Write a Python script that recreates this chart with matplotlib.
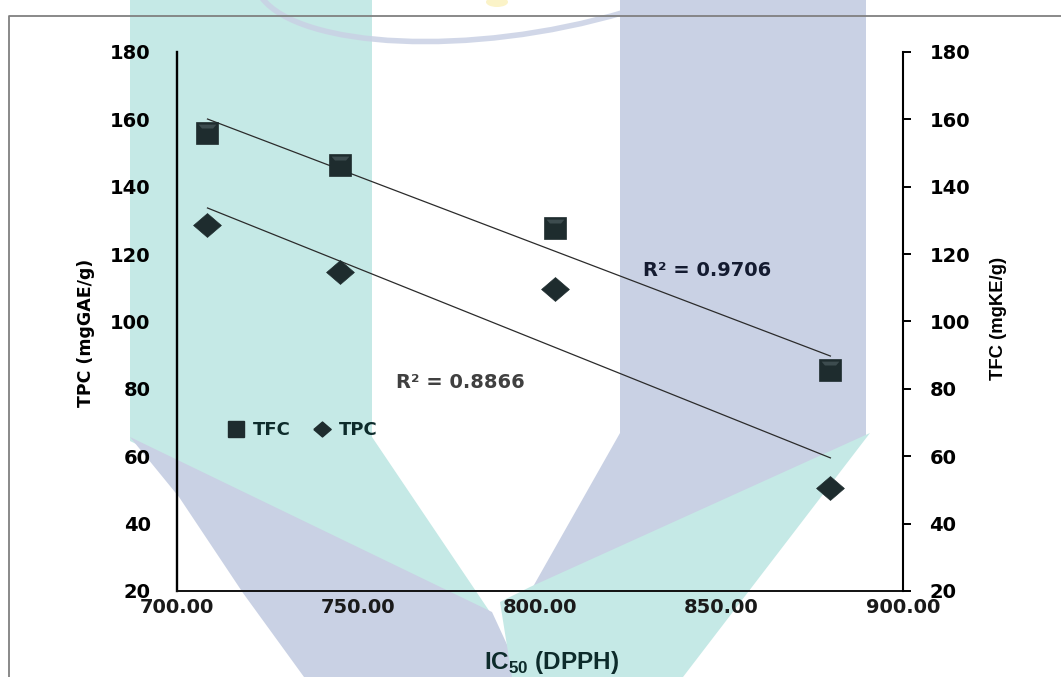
import matplotlib
matplotlib.use('Agg')
import matplotlib.pyplot as plt
import numpy as np
from matplotlib.patches import Polygon, Ellipse, PathPatch
from matplotlib.path import Path
from matplotlib.lines import Line2D
from matplotlib import font_manager

# ---------------- data ----------------
ic50 = [708.4, 744.9, 804.0, 880.0]
tfc = [155.9, 146.6, 127.8, 85.6]
tpc = [128.6, 114.7, 109.6, 50.6]
series_names = ['TFC', 'TPC']
r2_tfc_label = 'R² = 0.9706'
r2_tpc_label = 'R² = 0.8866'
x_ticks = [700, 750, 800, 850, 900]
y_ticks = [20, 40, 60, 80, 100, 120, 140, 160, 180]

# ---------------- fonts ----------------
names = {f.name for f in font_manager.fontManager.ttflist}
if 'Liberation Sans Narrow' in names:
    cond = 'Liberation Sans Narrow'
    xlab_size, rlab_size = 20, 16
else:
    cond = 'Liberation Sans'
    xlab_size, rlab_size = 17.5, 13.3
plt.rcParams['mathtext.fontset'] = 'custom'
plt.rcParams['mathtext.rm'] = cond
plt.rcParams['mathtext.bf'] = cond + ':bold'
plt.rcParams['font.family'] = ['DejaVu Sans']
cond_family = [cond, 'DejaVu Sans']

W, H = 1061, 677
fig = plt.figure(figsize=(W / 100, H / 100), dpi=100)
fig.patch.set_facecolor('white')


def P(pts):
    return [(x / W, 1 - y / H) for x, y in pts]


# ---------------- watermark background ----------------
teal = '#c5e9e6'
lav = '#c9d1e4'
shapes = [
    (P([(130, 0), (372, 0), (372, 437), (494, 618), (130, 441)]), teal),
    (P([(130, 437), (492, 612), (522, 677), (304, 677), (243, 593), (179, 497)]), lav),
    (P([(620, 0), (866, 0), (866, 437), (530, 592), (620, 433)]), lav),
    (P([(870, 433), (683, 677), (512, 677), (500, 602), (530, 587)]), teal),
]
for pts, col in shapes:
    fig.add_artist(Polygon(pts, closed=True, transform=fig.transFigure,
                           facecolor=col, edgecolor='none', zorder=-5))
arc = Path(P([(262, -2), (300, 48), (470, 58), (625, 12)]),
           [Path.MOVETO, Path.CURVE4, Path.CURVE4, Path.CURVE4])
fig.add_artist(PathPatch(arc, transform=fig.transFigure, fill=False,
                         edgecolor=lav, lw=4, alpha=0.85, zorder=-4))
fig.add_artist(Ellipse((497 / W, 1 - 2 / H), 22 / W, 10 / H,
                       transform=fig.transFigure, facecolor='#fbf3c8',
                       edgecolor='none', zorder=-4))
# outer frame
fig.add_artist(Line2D([9 / W, 9 / W, 1.0], [0.0, 1 - 16 / H, 1 - 16 / H],
                      transform=fig.transFigure, color='#808080', lw=1.3, zorder=-3))

# ---------------- axes ----------------
ax = fig.add_axes([177 / W, 1 - 591 / H, (903 - 177) / W, (591 - 52) / H])
ax.patch.set_visible(False)
ax.set_xlim(700, 900)
ax.set_ylim(20, 180)
ax.set_xticks(x_ticks)
ax.set_xticklabels([f'{v:.2f}' for v in x_ticks])
ax.set_yticks(y_ticks)
for s in ['top', 'right']:
    ax.spines[s].set_visible(False)
ax.spines['left'].set_linewidth(1.7)
ax.spines['left'].set_color('black')
ax.spines['bottom'].set_linewidth(1.4)
ax.spines['bottom'].set_color('#111111')
ax.tick_params(axis='x', length=0, pad=5, labelsize=14, labelcolor='#1a1a1a')
ax.tick_params(axis='y', length=0, pad=19, labelsize=14, labelcolor='black')
for lab in ax.get_xticklabels() + ax.get_yticklabels():
    lab.set_fontweight('bold')

ax2 = ax.twinx()
ax2.patch.set_visible(False)
ax2.set_ylim(20, 180)
ax2.set_yticks(y_ticks)
for s in ['top', 'left', 'bottom']:
    ax2.spines[s].set_visible(False)
ax2.spines['right'].set_linewidth(1.5)
ax2.spines['right'].set_color('black')
ax2.tick_params(axis='y', direction='out', length=6, width=1.4, pad=13,
                labelsize=14, labelcolor='black')
for lab in ax2.get_yticklabels():
    lab.set_fontweight('bold')

# ---------------- marks ----------------
mc = '#1e2c2e'
bevel_c = '#3d4c4f'
sq_ms = 16
diamond = [(-1, 0), (0, 0.86), (1, 0), (0, -0.86), (-1, 0)]
bevel = [(-0.8, 0.8), (0.8, 0.8), (0.5, 0.45), (-0.5, 0.45), (-0.8, 0.8)]
xr = np.array([min(ic50), max(ic50)])
for yv in (tfc, tpc):
    k, b = np.polyfit(ic50, yv, 1)
    ax.plot(xr, k * xr + b, color='#2b2b2b', lw=0.9, zorder=2)
ax.plot(ic50, tfc, ls='none', marker='s', ms=sq_ms, color=mc, mec=mc, mew=0.5, zorder=3)
ax.plot(ic50, tfc, ls='none', marker=bevel, ms=sq_ms * 0.8, color=bevel_c,
        mew=0, zorder=4)
ax.plot(ic50, tpc, ls='none', marker=diamond, ms=20, color=mc, mec=mc, mew=0.5, zorder=3)

handles = [Line2D([], [], ls='none', marker='s', ms=11, color=mc),
           Line2D([], [], ls='none', marker=diamond, ms=12.5, color=mc)]
leg = ax.legend(handles, series_names, ncol=2, frameon=False, loc='center left',
                bbox_to_anchor=((227 - 177) / 726, (591 - 430) / 539),
                prop=dict(weight='bold', size=13), handlelength=1.0,
                handletextpad=0.45, columnspacing=1.2, borderpad=0,
                borderaxespad=0, labelcolor='#0d2b2b')

ax.text((643 - 177) / 726, (591 - 271) / 539, r2_tfc_label, transform=ax.transAxes,
        ha='left', va='center', fontsize=14, fontweight='bold', color='#141b30')
ax.text((396 - 177) / 726, (591 - 382) / 539, r2_tpc_label, transform=ax.transAxes,
        ha='left', va='center', fontsize=14, fontweight='bold', color='#404040')

# ---------------- labels ----------------
ax.set_ylabel('TPC (mgGAE/g)', fontsize=12.5, fontweight='bold', color='black',
              va='center', ha='center')
ax.yaxis.set_label_coords((86 - 177) / 726, (591 - 333) / 539)
ax2.set_ylabel('TFC (mgKE/g)', fontsize=rlab_size, fontweight='bold', color='black',
               family=cond_family, va='center', ha='center', rotation=90)
ax2.yaxis.set_label_coords((998 - 177) / 726, (591 - 318) / 539)
ax.set_xlabel(r'IC$_{\mathbf{50}}$ (DPPH)', fontsize=xlab_size, fontweight='bold',
              color='#0d2b2b', family=cond_family, va='center', ha='center')
ax.xaxis.set_label_coords((552 - 177) / 726, (591 - 662) / 539)

fig.savefig('out.png', dpi=100)
